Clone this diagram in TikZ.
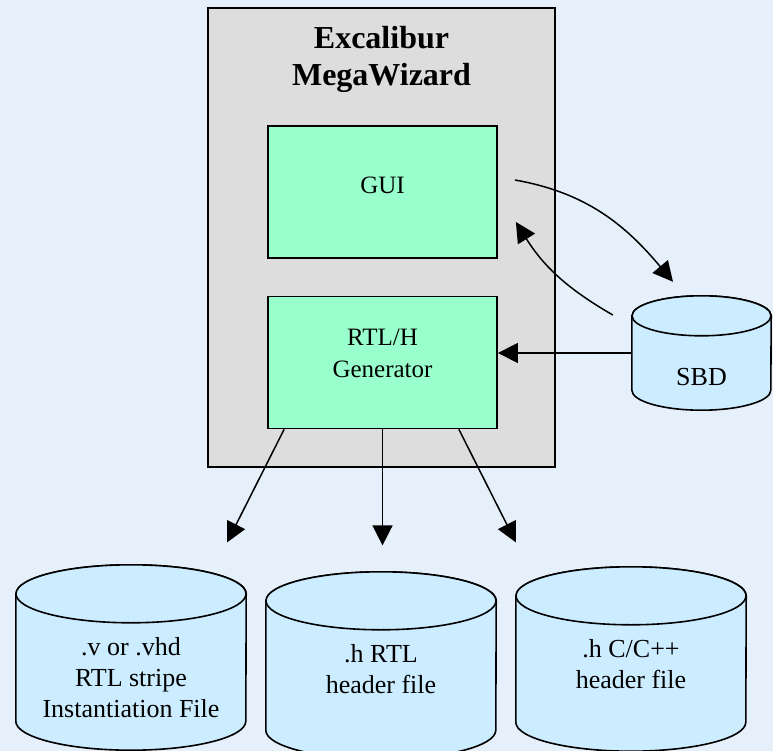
\documentclass[tikz,border=0pt]{standalone}
\usepackage{fontspec}
\setmainfont{Liberation Serif}
\usetikzlibrary{arrows.meta,positioning}
\definecolor{bgblue}{HTML}{E6F0FA}
\definecolor{wizgray}{HTML}{DDDDDD}
\definecolor{genmint}{HTML}{99FFCC}
\definecolor{dbblue}{HTML}{CCECFF}
\tikzset{
	block/.style={draw, line width=1.8pt, fill=genmint, minimum width=229pt, minimum height=132pt, align=center, font=\fontsize{25}{32}\selectfont},
	dbshape/.style={draw, fill=dbblue, line width=1.6pt},
	dblabel/.style={anchor=north, align=center, font=\fontsize{26}{31}\selectfont},
	flow/.style={line width=1.5pt, -{Triangle[length=20pt,width=20pt]}}
}
% data file cylinder: name, centre, half width, end radius, body height, text
\newcommand{\dbfile}[6]{%
	\node[minimum width=2*#3, minimum height=#5, inner sep=0pt] (#1) at (#2) {};
	\filldraw[dbshape] (#1.north west) -- (#1.south west)
		arc[start angle=180, end angle=360, x radius=#3, y radius=#4]
		-- (#1.north east) arc[start angle=0, end angle=180, x radius=#3, y radius=#4] -- cycle;
	\draw[dbshape] (#1.north) ellipse[x radius=#3, y radius=#4];
	\node[dblabel, yshift=#4-69pt] (#1text) at (#1.north) {#6};
}
\begin{document}
\begin{tikzpicture}[x=1pt,y=-1pt]
	% Background and picture size
	\fill[bgblue] (0,0) rectangle (773,751);
	\useasboundingbox (0,0) rectangle (773,751);
	% MegaWizard frame
	\node[draw, line width=1.8pt, fill=wizgray, minimum width=347pt, minimum height=459pt] (wizard) at (381.5,237.5) {};
	\node[below=16pt of wizard.north, align=center, font=\bfseries\fontsize{32}{37}\selectfont] (title) {Excalibur\\MegaWizard};
	\node[block, text depth=14pt] (gui) at (382.5,192) {GUI};
	\node[block, text depth=18pt] (rtl) at (382.5,362.5) {RTL/H\\Generator};
	% Data files
	\dbfile{sbd}{701.5,353}{69.5pt}{20pt}{74pt}{SBD}
	\dbfile{vfile}{131,657.5}{115pt}{29pt}{127pt}{.v or .vhd\\RTL stripe\\Instantiation File}
	\dbfile{hrtl}{381,665.5}{115pt}{29pt}{129pt}{.h RTL\\header file}
	\dbfile{hcpp}{631,659}{115pt}{29pt}{126pt}{.h C/C++\\header file}
	% GUI <-> SBD
	\draw[flow] ([xshift=17pt,yshift=12pt]gui.east) to[out=-10, in=130] ([xshift=-28.5pt,yshift=34pt]sbd.north);
	\draw[flow] ([xshift=-19pt,yshift=38pt]sbd.west) to[out=150, in=-58] ([xshift=18pt,yshift=-30pt]gui.east);
	\draw[flow] (sbd.west) -- (sbd.west -| rtl.east);
	% Generator outputs
	\draw[flow] ([xshift=17pt]rtl.south west) -- ++(-57,113);
	\draw[flow] (rtl.south) -- ++(0,116);
	\draw[flow] ([xshift=-39pt]rtl.south east) -- ++(57,113);
\end{tikzpicture}
\end{document}
